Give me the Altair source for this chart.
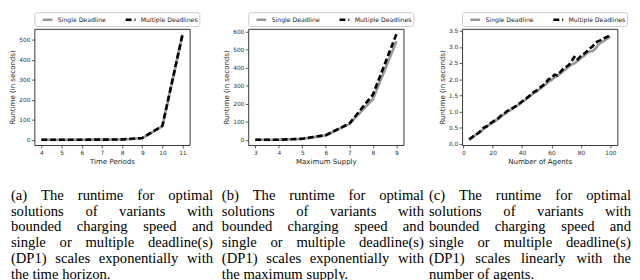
import altair as alt
import pandas as pd

series = ["Single Deadline", "Multiple Deadlines"]

# Panel (a): time periods
periods = [4, 5, 6, 7, 8, 9, 10, 11]
single_a = [0.05, 0.1, 0.2, 0.5, 1.5, 8, 68, 525]
multi_a = [0.05, 0.1, 0.2, 0.5, 1.6, 8.5, 70, 528]

# Panel (b): maximum supply
supply = [3, 4, 5, 6, 7, 8, 9]
single_b = [0.1, 0.5, 5, 25, 88, 225, 545]
multi_b = [0.1, 0.6, 6, 26, 90, 250, 585]

# Panel (c): number of agents
agents = list(range(4, 101, 2))
single_c = [0.12, 0.18, 0.26, 0.33, 0.38, 0.47, 0.53, 0.60, 0.66, 0.72,
            0.78, 0.86, 0.92, 0.99, 1.04, 1.10, 1.16, 1.22, 1.29, 1.35,
            1.42, 1.50, 1.57, 1.62, 1.70, 1.78, 1.84, 1.92, 1.97, 2.06,
            2.10, 2.18, 2.25, 2.32, 2.40, 2.46, 2.50, 2.58, 2.66, 2.72,
            2.80, 2.86, 2.87, 2.95, 3.08, 3.14, 3.20, 3.26, 3.32]
multi_c = [0.14, 0.20, 0.28, 0.32, 0.40, 0.50, 0.54, 0.62, 0.68, 0.73,
           0.80, 0.88, 0.94, 1.02, 1.05, 1.12, 1.17, 1.24, 1.31, 1.37,
           1.45, 1.52, 1.60, 1.65, 1.73, 1.80, 1.88, 2.00, 2.02, 2.14,
           2.12, 2.22, 2.32, 2.38, 2.45, 2.58, 2.72, 2.62, 2.72, 2.78,
           2.86, 2.95, 3.02, 3.14, 3.18, 3.22, 3.28, 3.31, 3.38]

captions = [
    ["(a) The runtime for optimal", "solutions of variants with",
     "bounded charging speed and", "single or multiple deadline(s)",
     "(DP1) scales exponentially with", "the time horizon."],
    ["(b) The runtime for optimal", "solutions of variants with",
     "bounded charging speed and", "single or multiple deadline(s)",
     "(DP1) scales exponentially with", "the maximum supply."],
    ["(c) The runtime for optimal", "solutions of variants with",
     "bounded charging speed and", "single or multiple deadline(s)",
     "(DP1) scales linearly with the", "number of agents."],
]

# ---- caption layout (pixels relative to the first plot's top-left) ----
TIMES = dict(a=444, b=500, c=444, d=500, e=444, f=333, g=500, h=500, i=278,
             j=278, k=500, l=278, m=778, n=500, o=500, p=500, q=500, r=333,
             s=389, t=278, u=500, v=500, w=722, x=500, y=500, z=444)
TIMES.update({"T": 611, "D": 722, "P": 556, "1": 500, "(": 333, ")": 333,
              ".": 250})
FS = 15
SPACE = 250 * FS / 1000
COL_X = [-24, 192, 404]
COL_W = 207
LINE0 = 170
LINE_H = 16.2
PW, PH = 159, 119


def wwidth(word):
    return sum(TIMES.get(ch, 500) for ch in word) * FS / 1000


rows = []
for ci, lines in enumerate(captions):
    for li, line in enumerate(lines):
        words = line.split()
        widths = [wwidth(w) for w in words]
        last = li == len(lines) - 1
        if last or len(words) == 1:
            gap = SPACE
        else:
            gap = (COL_W - sum(widths)) / (len(words) - 1)
        x = COL_X[ci]
        for w, wd in zip(words, widths):
            rows.append({"word": w, "cx": x, "cy": LINE0 + li * LINE_H})
            x += wd + gap
cap_df = pd.DataFrame(rows)

legend = alt.Legend(title=None, orient="top", direction="horizontal",
                    symbolType="stroke", symbolSize=100, symbolStrokeWidth=2.5,
                    symbolOffset=6, labelFont="DejaVu Sans", labelFontSize=6.3,
                    labelColor="#222", strokeColor="#cccccc", padding=1,
                    cornerRadius=2, offset=3, columnPadding=12, labelOffset=4,
                    fillColor="white")


def panel(xs, s, m, xtitle, xdom, xticks, ydom, yticks, yfmt):
    df = pd.DataFrame({
        "x": list(xs) * 2,
        "y": list(s) + list(m),
        "series": [series[0]] * len(xs) + [series[1]] * len(xs),
    })
    return alt.Chart(df).mark_line(strokeWidth=2.7, clip=True).encode(
        x=alt.X("x:Q", scale=alt.Scale(domain=xdom, nice=False, zero=False),
                axis=alt.Axis(values=xticks, title=xtitle, format="d")),
        y=alt.Y("y:Q", scale=alt.Scale(domain=ydom, nice=False, zero=False),
                axis=alt.Axis(values=yticks, title="Runtime (in seconds)",
                              format=yfmt)),
        color=alt.Color("series:N",
                        scale=alt.Scale(domain=series,
                                        range=["#999999", "#000000"]),
                        legend=legend),
        strokeDash=alt.StrokeDash("series:N",
                                  scale=alt.Scale(domain=series,
                                                  range=[[1, 0], [6, 3]]),
                                  legend=legend),
    ).properties(width=PW, height=PH)


pa = panel(periods, single_a, multi_a, "Time Periods", [3.65, 11.35],
           periods, [-26.4, 554], [0, 100, 200, 300, 400, 500], "d")
pb = panel(supply, single_b, multi_b, "Maximum Supply", [2.7, 9.3],
           supply, [-29, 614], [0, 100, 200, 300, 400, 500, 600], "d")
pc = panel(agents, single_c, multi_c, "Number of Agents", [-0.8, 104.8],
           [0, 20, 40, 60, 80, 100], [-0.04, 3.56],
           [0, 0.5, 1, 1.5, 2, 2.5, 3, 3.5], ".1f")

cap = alt.Chart(cap_df).mark_text(
    align="left", baseline="middle",
    font="Liberation Serif, Times New Roman, Times, serif", fontSize=FS,
    color="black").encode(
    x=alt.X("cx:Q", scale=alt.Scale(domain=[0, PW], nice=False, zero=False),
            axis=None),
    y=alt.Y("cy:Q", scale=alt.Scale(domain=[0, PH], nice=False, zero=False,
                                    reverse=True), axis=None),
    text="word:N",
)

pa_full = alt.layer(pa, cap).resolve_scale(x="independent", y="independent")

chart = alt.hconcat(pa_full, pb, pc, spacing=60, bounds="flush").resolve_legend(
    color="independent", strokeDash="independent"
).properties(padding=0).configure_view(
    stroke="#333333", strokeWidth=1
).configure_axis(
    grid=False, domain=False, tickColor="#333333", tickSize=3, tickWidth=0.8,
    labelFont="DejaVu Sans", labelFontSize=6, labelColor="#333333",
    labelPadding=1.5, titleFont="DejaVu Sans", titleFontSize=7.2,
    titleFontWeight="normal", titleColor="#222222", titlePadding=2,
).configure_axisX(labelFlush=False).configure_axisY(labelFlush=False)

chart.save("out.html", embed_options={"renderer": "svg", "actions": False})
